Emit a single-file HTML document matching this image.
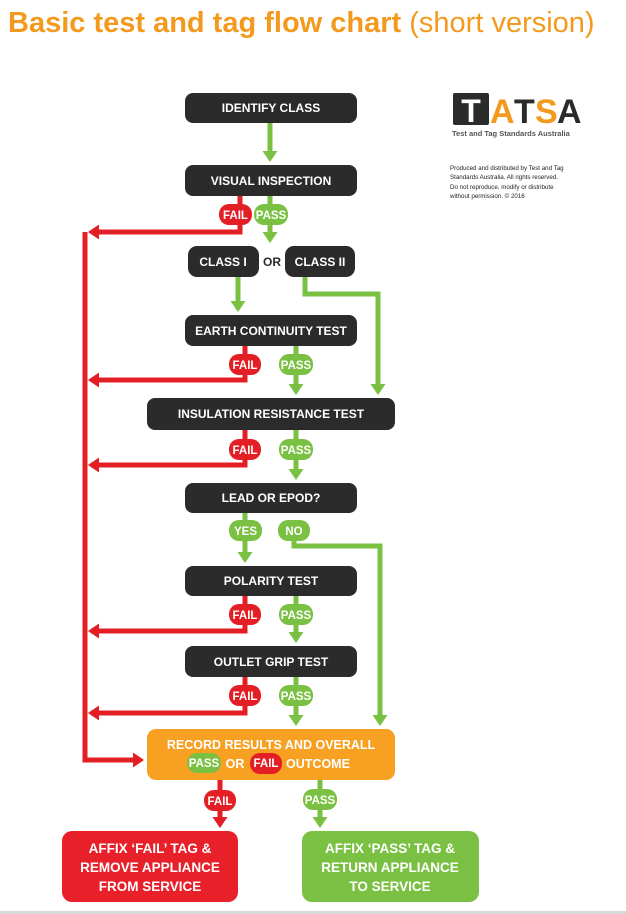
<!DOCTYPE html>
<html><head><meta charset="utf-8"><style>
html,body{margin:0;padding:0;background:#fff;width:626px;height:914px;overflow:hidden}
svg{display:block}
text{font-family:"Liberation Sans",sans-serif;font-weight:bold}
</style></head><body>
<svg width="626" height="914" viewBox="0 0 626 914" xmlns="http://www.w3.org/2000/svg">
<defs>
<marker id="ga" markerWidth="3" markerHeight="3" refX="1.6" refY="1.5" orient="auto" markerUnits="strokeWidth"><path d="M0,0 L2.2,1.5 L0,3 z" fill="#7ac143"/></marker>
<marker id="ra" markerWidth="3" markerHeight="3" refX="1.6" refY="1.5" orient="auto" markerUnits="strokeWidth"><path d="M0,0 L2.2,1.5 L0,3 z" fill="#e31e25"/></marker>
</defs>
<text x="8" y="32" font-size="29" fill="#f39a1e">Basic test and tag flow chart <tspan font-weight="normal">(short version)</tspan></text>

<!-- logo -->
<rect x="453" y="93" width="36" height="32" fill="#2b2b2b" rx="2"/>
<text x="471" y="122" font-size="32" fill="#fff" text-anchor="middle" font-weight="bold">T</text>
<text x="490" y="123" font-size="34" fill="#f39a1e" font-weight="bold">A</text>
<text x="514" y="123" font-size="34" fill="#2b2b2b" font-weight="bold">T</text>
<text x="535" y="123" font-size="34" fill="#f39a1e" font-weight="bold">S</text>
<text x="557" y="123" font-size="34" fill="#2b2b2b" font-weight="bold">A</text>
<text x="452" y="136" font-size="7.5" fill="#555" font-weight="bold">Test and Tag Standards Australia</text>
<g font-size="6.2" fill="#222">
<text x="450" y="170" style="font-weight:normal">Produced and distributed by Test and Tag</text>
<text x="450" y="179" style="font-weight:normal">Standards Australia. All rights reserved.</text>
<text x="450" y="189" style="font-weight:normal">Do not reproduce, modify or distribute</text>
<text x="450" y="198" style="font-weight:normal">without permission. © 2016</text>
</g>

<g fill="none" stroke-width="5">
<g stroke="#e31e25">
<polyline points="85,232 85,760 141,760" marker-end="url(#ra)"/>
<polyline points="240,196 240,232 91,232" marker-end="url(#ra)"/>
<polyline points="245,346 245,380 91,380" marker-end="url(#ra)"/>
<polyline points="245,430 245,465 91,465" marker-end="url(#ra)"/>
<polyline points="245,596 245,631 91,631" marker-end="url(#ra)"/>
<polyline points="245,677 245,713 91,713" marker-end="url(#ra)"/>
<polyline points="220,780 220,825" marker-end="url(#ra)"/>
</g>
<g stroke="#7ac143">
<polyline points="270,123 270,159" marker-end="url(#ga)"/>
<polyline points="270,196 270,240" marker-end="url(#ga)"/>
<polyline points="238,277 238,309" marker-end="url(#ga)"/>
<polyline points="305,277 305,294 378,294 378,392" marker-end="url(#ga)"/>
<polyline points="296,346 296,392" marker-end="url(#ga)"/>
<polyline points="296,430 296,477" marker-end="url(#ga)"/>
<polyline points="245,513 245,560" marker-end="url(#ga)"/>
<polyline points="294,520 294,546 380,546 380,723" marker-end="url(#ga)"/>
<polyline points="296,596 296,640" marker-end="url(#ga)"/>
<polyline points="296,677 296,723" marker-end="url(#ga)"/>
<polyline points="320,780 320,825" marker-end="url(#ga)"/>
</g>
</g>

<g fill="#2b2b2b">
<rect x="185" y="93" width="172" height="30" rx="8"/>
<rect x="185" y="165" width="172" height="31" rx="8"/>
<rect x="188" y="246" width="71" height="31" rx="9"/>
<rect x="285" y="246" width="70" height="31" rx="9"/>
<rect x="185" y="315" width="172" height="31" rx="8"/>
<rect x="147" y="398" width="248" height="32" rx="8"/>
<rect x="185" y="483" width="172" height="30" rx="8"/>
<rect x="185" y="566" width="172" height="30" rx="8"/>
<rect x="185" y="646" width="172" height="31" rx="8"/>
</g>
<g font-size="12" fill="#fff" text-anchor="middle">
<text x="271" y="112">IDENTIFY CLASS</text>
<text x="271" y="185">VISUAL INSPECTION</text>
<text x="223" y="266">CLASS I</text>
<text x="320" y="266">CLASS II</text>
<text x="271" y="335">EARTH CONTINUITY TEST</text>
<text x="271" y="418">INSULATION RESISTANCE TEST</text>
<text x="271" y="502">LEAD OR EPOD?</text>
<text x="271" y="585">POLARITY TEST</text>
<text x="271" y="666">OUTLET GRIP TEST</text>
</g>
<text x="272" y="266" font-size="12" fill="#2b2b2b" text-anchor="middle">OR</text>

<g font-size="11.5" fill="#fff" text-anchor="middle">
<rect x="219" y="204" width="33" height="21" rx="10" fill="#e31e25"/><text x="235.5" y="219">FAIL</text>
<rect x="254" y="204" width="34" height="21" rx="10" fill="#7ac143"/><text x="271" y="219">PASS</text>
<rect x="229" y="354" width="32" height="21" rx="10" fill="#e31e25"/><text x="245" y="369">FAIL</text>
<rect x="279" y="354" width="34" height="21" rx="10" fill="#7ac143"/><text x="296" y="369">PASS</text>
<rect x="229" y="439" width="32" height="21" rx="10" fill="#e31e25"/><text x="245" y="454">FAIL</text>
<rect x="279" y="439" width="34" height="21" rx="10" fill="#7ac143"/><text x="296" y="454">PASS</text>
<rect x="229" y="520" width="33" height="21" rx="10" fill="#7ac143"/><text x="245.5" y="535">YES</text>
<rect x="278" y="520" width="32" height="21" rx="10" fill="#7ac143"/><text x="294" y="535">NO</text>
<rect x="229" y="604" width="32" height="21" rx="10" fill="#e31e25"/><text x="245" y="619">FAIL</text>
<rect x="279" y="604" width="34" height="21" rx="10" fill="#7ac143"/><text x="296" y="619">PASS</text>
<rect x="229" y="685" width="32" height="21" rx="10" fill="#e31e25"/><text x="245" y="700">FAIL</text>
<rect x="279" y="685" width="34" height="21" rx="10" fill="#7ac143"/><text x="296" y="700">PASS</text>
<rect x="204" y="790" width="32" height="21" rx="10" fill="#e31e25"/><text x="220" y="805">FAIL</text>
<rect x="303" y="789" width="34" height="21" rx="10" fill="#7ac143"/><text x="320" y="804">PASS</text>
</g>

<rect x="147" y="729" width="248" height="51" rx="9" fill="#f7a021"/>
<g font-size="12.5" fill="#fff" text-anchor="middle">
<text x="271" y="749">RECORD RESULTS AND OVERALL</text>
<rect x="187" y="753" width="34" height="20" rx="10" fill="#7ac143"/><text x="204" y="767" font-size="11.5">PASS</text>
<text x="235" y="768">OR</text>
<rect x="250" y="753" width="32" height="21" rx="10" fill="#e31e25"/><text x="266" y="767" font-size="11.5">FAIL</text>
<text x="318" y="768">OUTCOME</text>
</g>

<rect x="62" y="831" width="176" height="71" rx="10" fill="#e8202a"/>
<rect x="302" y="831" width="177" height="71" rx="10" fill="#7ac143"/>
<g font-size="13.5" fill="#fff" text-anchor="middle">
<text x="150" y="853">AFFIX ‘FAIL’ TAG &amp;</text>
<text x="150" y="872">REMOVE APPLIANCE</text>
<text x="150" y="891">FROM SERVICE</text>
<text x="390" y="853">AFFIX ‘PASS’ TAG &amp;</text>
<text x="390" y="872">RETURN APPLIANCE</text>
<text x="390" y="891">TO SERVICE</text>
</g>
<rect x="0" y="911" width="626" height="3" fill="#d8d8d8"/>
</svg>
</body></html>
